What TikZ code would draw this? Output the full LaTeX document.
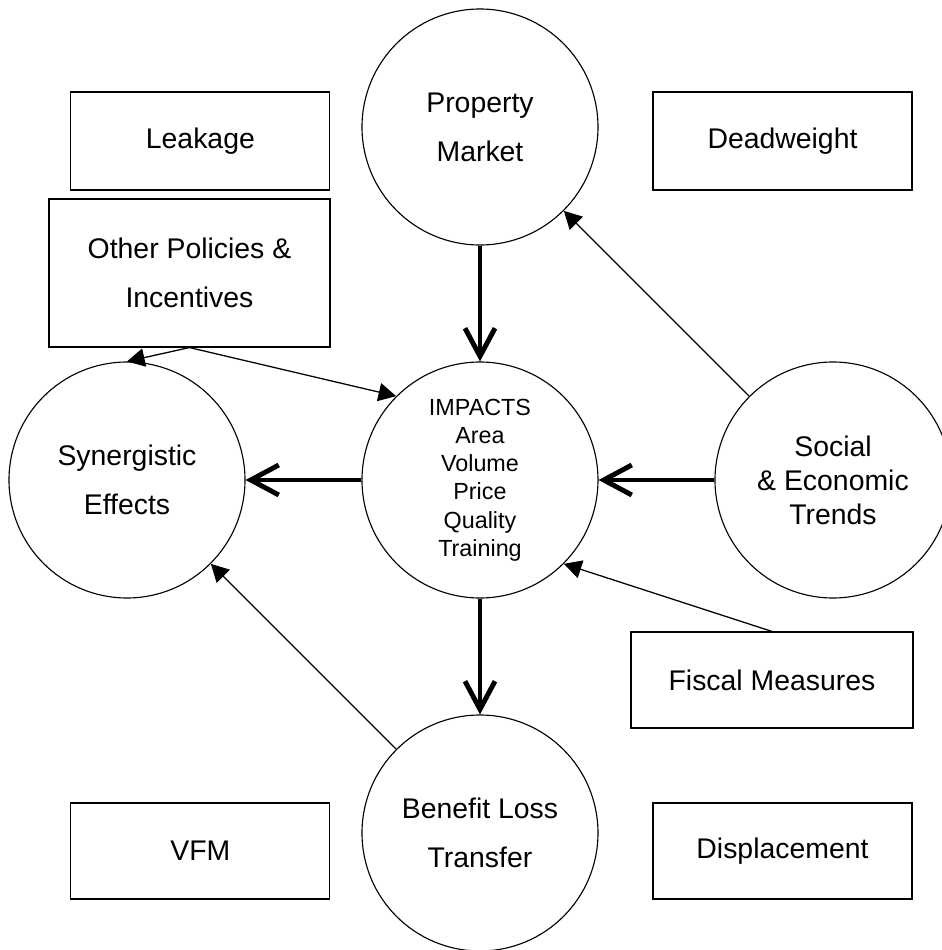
\documentclass[tikz,border=0pt]{standalone}
\usepackage{fontspec}
\setmainfont{Liberation Sans}
\usetikzlibrary{arrows.meta,positioning}
\newcommand{\bubblefont}{\fontsize{20.2}{34.9}\selectfont}
\newcommand{\trendfont}{\fontsize{20.2}{24.2}\selectfont}
\newcommand{\impactfont}{\fontsize{16.6}{20.1}\selectfont}

\begin{document}
\begin{tikzpicture}[node distance=8.825cm,
        bubble/.style={circle, draw, line width=0.8pt, minimum size=5.9cm, inner sep=0pt, align=center, font=\bubblefont},
        box/.style={rectangle, draw, line width=0.8pt, inner sep=0pt, align=center, font=\bubblefont},
        mainarrow/.style={-{Straight Barb[length=0.7cm, width=0.75cm]}, line width=3.5pt},
        sidearrow/.style={-{Triangle[length=0.44cm, width=0.46cm]}, line width=0.9pt}]
        \useasboundingbox (-12,-11.75) rectangle (11.55,12);

        % Impacts
        \node[bubble, font=\impactfont] (impacts) {IMPACTS\\Area\\Volume\\Price\\Quality\\Training};

        % Property Market
        \node[bubble, above of=impacts] (prop) {Property\\Market};

        % Synergistic Effects
        \node[bubble, left of=impacts] (syn) {Synergistic\\Effects};

        % Social and Economic Trends
        \node[bubble, font=\trendfont, right of=impacts] (social) {Social\\\& Economic\\Trends};

        % Benefit Loss Transfer
        \node[bubble, below of=impacts] (benefit) {Benefit Loss\\Transfer};

        % Leakage
        \node[box, minimum width=6.475cm, minimum height=2.45cm, left of=prop, xshift=1.835cm, yshift=-0.35cm] (leakage) {Leakage};

        % Deadweight
        \node[box, minimum width=6.475cm, minimum height=2.45cm, right of=prop, xshift=-1.2625cm, yshift=-0.35cm] (deadweight) {Deadweight};

        % Other Policies
        \node[box, minimum width=7.025cm, minimum height=3.7cm, left of=impacts, xshift=1.5625cm, yshift=5.175cm] (policies) {Other Policies \&\\Incentives};

        % Fiscal Measures
        \node[box, minimum width=7.05cm, minimum height=2.4cm, right of=impacts, xshift=-1.525cm, yshift=-5cm] (fiscal) {Fiscal Measures};

        % VFM
        \node[box, minimum width=6.475cm, minimum height=2.4cm, left of=benefit, xshift=1.835cm, yshift=-0.45cm] (vfm) {VFM};

        % Displacement
        \node[box, minimum width=6.475cm, minimum height=2.4cm, right of=benefit, xshift=-1.2625cm, yshift=-0.45cm] (displacement) {Displacement};

        % Connections
        \draw[mainarrow] (prop) -- (impacts);
        \draw[mainarrow] (impacts) -- (syn);
        \draw[mainarrow] (social) -- (impacts);
        \draw[mainarrow] (impacts) -- (benefit);
        \draw[sidearrow] (social) -- (prop);
        \draw[sidearrow] (benefit) -- (syn);
        \draw[sidearrow] (fiscal.north) -- (impacts.-45);
        \draw[sidearrow] (policies.south) -- (syn.north);
        \draw[sidearrow] (policies.south) -- (impacts.135);
    \end{tikzpicture}
\end{document}
